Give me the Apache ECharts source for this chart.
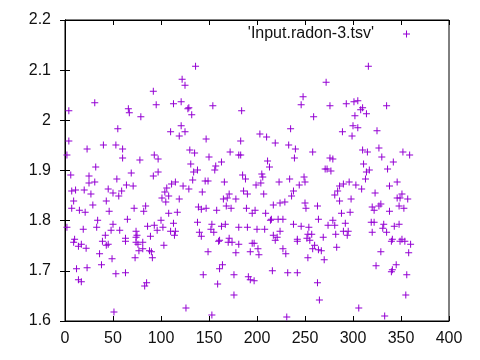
<!DOCTYPE html>
<html><head><meta charset="utf-8">
<script src="https://cdn.jsdelivr.net/npm/echarts@6/dist/echarts.min.js"></script>
<style>html,body{margin:0;padding:0;background:#fff}#c{width:480px;height:360px}</style>
</head><body><div id="c"></div>
<script>
const seriesName = "'Input.radon-3.tsv'";
const xTicks = [0, 50, 100, 150, 200, 250, 300, 350, 400];
const yTicks = [1.6, 1.7, 1.8, 1.9, 2.0, 2.1, 2.2];
// [day, radon] pairs
const radonPoints = [
[4,2.019],[31,2.035],[66,2.023],[67,2.015],[79,2.007],[92,2.058],[95,2.031],
[136,2.108],[122,2.082],[125,2.070],[113,2.033],[121,2.037],[128,2.023],[129,2.025],[132,2.011],[154,2.029],[184,2.019],[248,2.047],[246,2.031],[259,2.007],
[316,2.108],[272,2.076],[276,2.029],[293,2.033],[301,2.037],[305,2.039],[308,2.021],[310,2.025],[302,2.009],[314,2.013],[335,2.029],
[55,1.983],[4,1.959],[2,1.931],[23,1.943],[40,1.951],[53,1.951],[60,1.943],[60,1.925],[78,1.921],[93,1.931],[97,1.923],[32,1.907],[6,1.891],[25,1.889],[25,1.875],[31,1.877],[69,1.895],[54,1.883],[97,1.897],[92,1.889],
[7,1.859],[11,1.861],[20,1.861],[27,1.853],[29,1.831],[45,1.863],[50,1.855],[56,1.849],[59,1.859],[64,1.871],[71,1.869],[43,1.839],[9,1.839],[7,1.825],[15,1.821],[21,1.817],[46,1.819],[72,1.825],[82,1.819],[84,1.829],
[34,1.801],[65,1.803],[50,1.793],[42,1.771],[33,1.787],[19,1.783],[2,1.787],[48,1.781],[57,1.781],[74,1.779],[75,1.771],[86,1.789],[93,1.791],[96,1.781],[63,1.765],[74,1.767],[89,1.769],[10,1.763],
[121,1.989],[110,1.977],[125,1.977],[119,1.969],[147,1.963],[203,1.973],[210,1.967],[235,1.983],[183,1.959],[219,1.955],[233,1.951],[240,1.943],[258,1.937],[239,1.925],[130,1.941],[135,1.935],[172,1.937],[181,1.931],[183,1.931],[150,1.927],
[211,1.919],[213,1.907],[131,1.913],[163,1.917],[157,1.909],[156,1.901],[134,1.897],[138,1.901],[185,1.891],[188,1.883],[205,1.893],[206,1.887],[249,1.887],[133,1.881],[146,1.879],[149,1.879],[166,1.877],[223,1.877],[234,1.883],[250,1.877],
[115,1.877],[111,1.873],[123,1.869],[199,1.871],[204,1.875],[244,1.871],[106,1.865],[129,1.863],[104,1.857],[143,1.857],[186,1.859],[238,1.859],[108,1.849],[171,1.853],[190,1.853],[207,1.853],[101,1.845],[119,1.843],[165,1.843],[169,1.845],
[178,1.843],[236,1.849],[105,1.837],[250,1.835],[224,1.835],[229,1.837],[217,1.831],[139,1.827],[168,1.829],[173,1.825],[142,1.823],[147,1.825],[158,1.821],[189,1.825],[198,1.821],[195,1.815],[209,1.815],[251,1.825],[263,1.829],[108,1.815],
[117,1.817],[214,1.801],[215,1.803],[222,1.803],[227,1.803],[264,1.803],[100,1.801],[138,1.797],[113,1.795],[153,1.793],[163,1.789],[167,1.793],[152,1.783],[181,1.787],[190,1.787],[200,1.783],[208,1.783],[238,1.793],[246,1.789],[254,1.787],
[102,1.787],[110,1.779],[115,1.779],[114,1.771],[140,1.777],[142,1.769],[155,1.777],[224,1.779],[217,1.771],[221,1.767],[253,1.773],[257,1.773],[242,1.763],[252,1.765],[171,1.765],[161,1.761],
[300,1.989],[305,1.985],[289,1.977],[299,1.969],[325,1.979],[310,1.941],[315,1.937],[327,1.945],[330,1.927],[352,1.937],[359,1.931],[276,1.925],[279,1.923],[342,1.917],[311,1.913],[271,1.903],[273,1.903],[277,1.899],[314,1.897],[317,1.901],
[336,1.903],[313,1.883],[296,1.877],[290,1.873],[286,1.869],[303,1.871],[309,1.863],[338,1.869],[346,1.877],[284,1.859],[281,1.851],[323,1.855],[298,1.843],[286,1.839],[346,1.845],[351,1.853],[349,1.845],[357,1.843],[320,1.827],[322,1.821],
[327,1.829],[329,1.833],[348,1.829],[353,1.825],[338,1.819],[288,1.815],[297,1.817],[279,1.801],[319,1.797],[322,1.797],[292,1.795],[274,1.791],[281,1.791],[332,1.793],[331,1.785],[343,1.789],[348,1.793],[290,1.779],[295,1.779],[282,1.773],
[294,1.771],[320,1.777],[335,1.777],[269,1.767],[341,1.763],[351,1.763],
[9,1.757],[14,1.749],[17,1.753],[22,1.745],[36,1.734],[38,1.712],[49,1.724],[12,1.704],[23,1.706],[53,1.694],[63,1.696],[14,1.682],[17,1.678],[51,1.618],[39,1.759],[43,1.751],[45,1.753],[63,1.759],[74,1.757],[76,1.753],
[81,1.757],[77,1.740],[81,1.744],[88,1.740],[90,1.738],[73,1.726],[91,1.726],[83,1.670],[85,1.676],
[103,1.751],[149,1.738],[160,1.759],[170,1.757],[174,1.757],[181,1.753],[178,1.736],[195,1.755],[197,1.755],[193,1.738],[201,1.744],[202,1.732],[219,1.761],[227,1.744],[230,1.734],[242,1.759],[255,1.761],[260,1.751],[258,1.744],[264,1.742],
[253,1.726],[144,1.692],[164,1.712],[161,1.704],[176,1.692],[191,1.688],[193,1.682],[197,1.680],[159,1.674],[216,1.700],[232,1.696],[242,1.696],[263,1.676],[265,1.642],[176,1.652],[126,1.626],[153,1.612],[231,1.608],
[267,1.740],[270,1.722],[283,1.747],[329,1.738],[324,1.710],[340,1.759],[349,1.759],[354,1.759],[360,1.753],[358,1.736],[340,1.698],[341,1.702],[345,1.712],[356,1.692],[355,1.652],[306,1.626],[333,1.610]
];
const plusPath = 'path://M3,0h1v7h-1z M0,3h7v1h-7z';
const color = '#9400D3';
const font = 'Liberation Sans, Arial, sans-serif';
const fmt = v => String(+(+v).toFixed(2));
const chart = echarts.init(document.getElementById('c'), null, {renderer: 'canvas'});
const tickStyle = {show: true, inside: true, length: 5, lineStyle: {color: '#000', width: 1}};
chart.setOption({
  animation: false,
  backgroundColor: '#fff',
  grid: {left: 65, right: 31, top: 20, bottom: 39, show: true, borderColor: '#000', borderWidth: 1, backgroundColor: 'transparent'},
  legend: {
    data: [{name: seriesName, icon: plusPath}],
    right: 65, top: 21, align: 'right', itemWidth: 7, itemHeight: 7,
    textStyle: {fontFamily: font, fontSize: 16, color: '#111', padding: [0, 24, 0, 0]},
    itemStyle: {color: color}
  },
  xAxis: [
    {type: 'value', min: xTicks[0], max: xTicks[xTicks.length - 1], interval: 50, position: 'bottom',
     axisLine: {show: true, lineStyle: {color: '#000'}}, axisTick: tickStyle, splitLine: {show: false},
     axisLabel: {fontFamily: font, fontSize: 16, color: '#111', margin: 10, formatter: fmt}},
    {type: 'value', min: xTicks[0], max: xTicks[xTicks.length - 1], interval: 50, position: 'top',
     axisLine: {show: true, lineStyle: {color: '#000'}}, axisTick: tickStyle, splitLine: {show: false},
     axisLabel: {show: false}}
  ],
  yAxis: [
    {type: 'value', min: yTicks[0], max: yTicks[yTicks.length - 1], interval: 0.1, position: 'left',
     axisLine: {show: true, lineStyle: {color: '#000'}}, axisTick: tickStyle, splitLine: {show: false},
     axisLabel: {fontFamily: font, fontSize: 16, color: '#111', margin: 14, formatter: fmt}},
    {type: 'value', min: yTicks[0], max: yTicks[yTicks.length - 1], interval: 0.1, position: 'right',
     axisLine: {show: true, lineStyle: {color: '#000'}}, axisTick: tickStyle, splitLine: {show: false},
     axisLabel: {show: false}}
  ],
  series: [{
    name: seriesName, type: 'scatter', xAxisIndex: 0, yAxisIndex: 0,
    symbol: plusPath, symbolSize: 7, data: radonPoints,
    itemStyle: {color: color, opacity: 1}
  }]
});
</script></body></html>
